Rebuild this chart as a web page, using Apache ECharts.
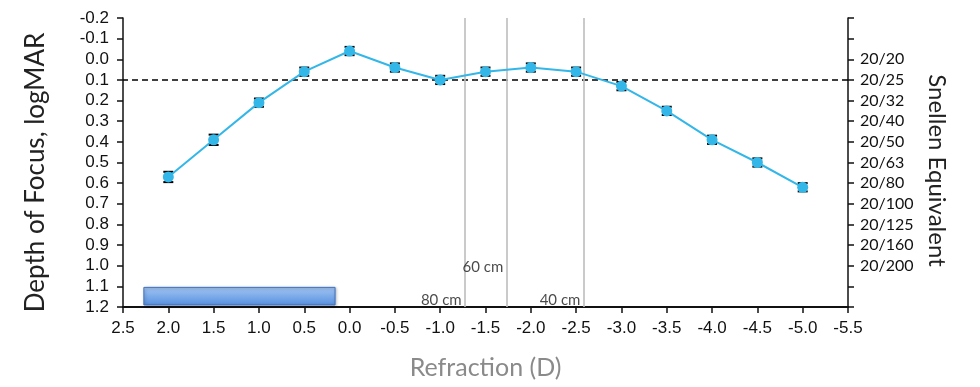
<!DOCTYPE html>
<html><head><meta charset="utf-8">
<script src="https://cdn.jsdelivr.net/npm/echarts@6/dist/echarts.min.js"></script>
<style>html,body{margin:0;padding:0;background:#fff}#c{width:980px;height:387px}</style>
</head><body><div id="c"></div>
<script>
// ---- data ----
const refraction = [2.0, 1.5, 1.0, 0.5, 0.0, -0.5, -1.0, -1.5, -2.0, -2.5, -3.0, -3.5, -4.0, -4.5, -5.0];
const logMAR     = [0.57, 0.39, 0.21, 0.06, -0.04, 0.04, 0.10, 0.06, 0.04, 0.06, 0.13, 0.25, 0.39, 0.50, 0.62];
const errLogMAR  = [0.025, 0.025, 0.02, 0.02, 0.02, 0.02, 0.02, 0.02, 0.02, 0.02, 0.02, 0.02, 0.02, 0.02, 0.02];
const snellenValues = [0.0, 0.1, 0.2, 0.3, 0.4, 0.5, 0.6, 0.7, 0.8, 0.9, 1.0];
const snellenLabels = ['20/20', '20/25', '20/32', '20/40', '20/50', '20/63', '20/80', '20/100', '20/125', '20/160', '20/200'];
const thresholdLogMAR = 0.1;
const distanceLinesD = [-1.27, -1.73, -2.58];
const distanceLabels = ['80 cm', '60 cm', '40 cm'];
const distanceLabelY = [1.165, 1.005, 1.165];
const barX = [2.27, 0.16];
const barY = [1.105, 1.19];

const chart = echarts.init(document.getElementById('c'));
const tickFont = { fontFamily: 'Liberation Sans, Arial, sans-serif', fontSize: 17, color: '#111' };
const titleFont = { fontFamily: 'Lato, sans-serif', fontSize: 25, color: '#222' };
const blue = '#33b6e8';

chart.setOption({
  animation: false,
  grid: { left: 123, right: 132, top: 18, bottom: 80, containLabel: false },
  xAxis: {
    type: 'value', inverse: true, min: -5.5, max: 2.5, interval: 0.5,
    name: 'Refraction (D)', nameLocation: 'middle', nameGap: 48,
    nameTextStyle: Object.assign({}, titleFont, { color: '#8a8a8a' }),
    axisLine: { show: true, onZero: false, lineStyle: { color: '#111', width: 2 } },
    axisTick: { show: true, length: 6, lineStyle: { color: '#111', width: 1.5 } },
    axisLabel: Object.assign({ margin: 13, formatter: v => v.toFixed(1) }, tickFont),
    splitLine: { show: false }
  },
  yAxis: [{
    type: 'value', inverse: true, min: -0.2, max: 1.2, interval: 0.1, position: 'left',
    name: 'Depth of Focus, logMAR', nameLocation: 'middle', nameGap: 74,
    nameTextStyle: Object.assign({}, titleFont, { fontSize: 26, padding: [0, 20, 0, 0] }),
    axisLine: { show: true, onZero: false, lineStyle: { color: '#111', width: 1.5 } },
    axisTick: { show: true, length: 6, lineStyle: { color: '#111', width: 1.5 } },
    axisLabel: Object.assign({ margin: 14, formatter: v => v.toFixed(1) }, tickFont),
    splitLine: { show: false }
  }, {
    type: 'value', inverse: true, min: -0.2, max: 1.2, interval: 0.1, position: 'right',
    name: 'Snellen Equivalent', nameLocation: 'middle', nameGap: 77, nameRotate: -90,
    nameTextStyle: Object.assign({}, titleFont, { fontSize: 24, padding: [0, 0, 0, 16] }),
    axisLine: { show: true, onZero: false, lineStyle: { color: '#111', width: 1.5 } },
    axisTick: { show: true, length: 6, lineStyle: { color: '#111', width: 1.5 } },
    axisLabel: {
      margin: 12, fontFamily: 'Lato, sans-serif', fontSize: 16, color: '#111',
      formatter: v => { const i = snellenValues.findIndex(s => Math.abs(s - v) < 1e-6); return i >= 0 ? snellenLabels[i] : ''; }
    },
    splitLine: { show: false }
  }],
  series: [{
    type: 'custom', name: 'range',
    data: [[barX[0], barX[1], barY[0], barY[1]]],
    encode: { x: [0, 1], y: [2, 3] },
    renderItem: (params, api) => {
      const p1 = api.coord([api.value(0), api.value(2)]);
      const p2 = api.coord([api.value(1), api.value(3)]);
      return {
        type: 'rect',
        shape: { x: Math.min(p1[0], p2[0]), y: Math.min(p1[1], p2[1]), width: Math.abs(p2[0] - p1[0]), height: Math.abs(p2[1] - p1[1]) },
        style: {
          fill: new echarts.graphic.LinearGradient(0, 0, 0, 1, [{ offset: 0, color: '#a3c6f5' }, { offset: 1, color: '#5690de' }]),
          stroke: '#3f72c2', lineWidth: 1,
          shadowBlur: 3, shadowColor: 'rgba(0,0,0,0.3)', shadowOffsetX: 1, shadowOffsetY: 1
        }
      };
    }
  }, {
    type: 'custom', name: 'error',
    data: refraction.map((x, i) => [x, logMAR[i] - errLogMAR[i], logMAR[i] + errLogMAR[i]]),
    encode: { x: 0, y: [1, 2] },
    z: 3,
    renderItem: (params, api) => {
      const x = api.value(0);
      const a = api.coord([x, api.value(1)]);
      const b = api.coord([x, api.value(2)]);
      const w = 5;
      const st = { stroke: '#000', lineWidth: 2 };
      return { type: 'group', children: [
        { type: 'line', shape: { x1: a[0], y1: a[1], x2: b[0], y2: b[1] }, style: st },
        { type: 'line', shape: { x1: a[0] - w, y1: a[1], x2: a[0] + w, y2: a[1] }, style: st },
        { type: 'line', shape: { x1: b[0] - w, y1: b[1], x2: b[0] + w, y2: b[1] }, style: st }
      ]};
    }
  }, {
    type: 'line', name: 'logMAR', z: 4,
    data: refraction.map((x, i) => [x, logMAR[i]]),
    symbol: 'circle', symbolSize: 11, showSymbol: true,
    lineStyle: { color: blue, width: 2 },
    itemStyle: { color: blue, borderWidth: 0 },
    markLine: {
      silent: true, symbol: 'none', label: { show: false }, z: 2,
      data: [
        { yAxis: thresholdLogMAR, lineStyle: { color: '#000', width: 1.6, type: [6, 4] } }
      ].concat(distanceLinesD.map(d => ({ xAxis: d, lineStyle: { color: '#bdbdbd', width: 1.6, type: 'solid' } })))
    }
  }, {
    type: 'scatter', name: 'distance', symbolSize: 0, silent: true,
    data: distanceLinesD.map((d, i) => ({ value: [d, distanceLabelY[i]], label: { formatter: distanceLabels[i] } })),
    label: { show: true, position: 'left', distance: 3, fontFamily: 'Lato, sans-serif', fontSize: 15, color: '#1a1a1a' }
  }]
});
</script>
</body></html>
